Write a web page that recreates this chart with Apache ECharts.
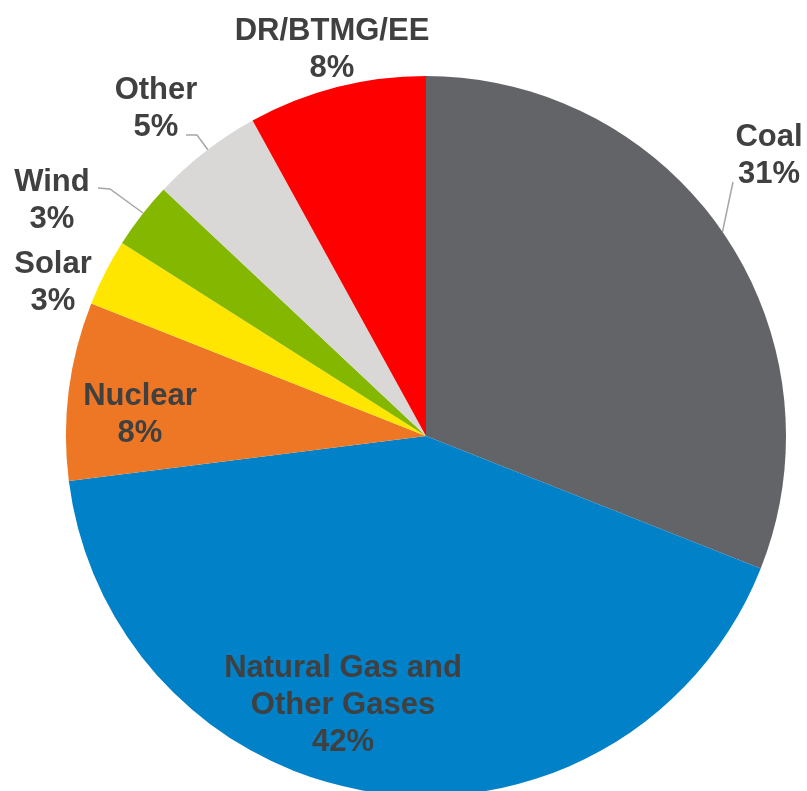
<!DOCTYPE html>
<html>
<head>
<meta charset="utf-8">
<script src="https://cdn.jsdelivr.net/npm/echarts@6/dist/echarts.min.js"></script>
<style>
  html, body { margin: 0; padding: 0; background: #ffffff; }
  #chart { width: 807px; height: 791px; }
</style>
</head>
<body>
<div id="chart"></div>
<script>
// Capacity mix by resource type (percent of total)
const categories = ['Coal', 'Natural Gas and\nOther Gases', 'Nuclear', 'Solar', 'Wind', 'Other', 'DR/BTMG/EE'];
const shares = [31, 42, 8, 3, 3, 5, 8];
const sliceColors = ['#636468', '#0081C8', '#ED7725', '#FFE600', '#84B800', '#D9D8D7', '#FF0000'];

// Label placement: centre of each text block, and an optional leader line
const labelCenters = [[769, 156], [343, 705], [140, 415], [53, 283], [52, 201], [156, 109], [332, 50]];
const leaderLines = [
  [[722, 234], [733, 182], [733, 182]],
  null, null, null,
  [[143, 213], [110, 189], [98, 188]],
  [[208, 150], [197, 135], [186, 135]],
  null
];
const insideLabels = [1, 2];

const chart = echarts.init(document.getElementById('chart'), null, { renderer: 'canvas' });

const data = categories.map((name, i) => ({
  name: name,
  value: shares[i],
  itemStyle: { color: sliceColors[i] },
  label: { position: insideLabels.includes(i) ? 'inside' : 'outside' },
  labelLine: { show: !!leaderLines[i] }
}));

chart.setOption({
  animation: false,
  series: [{
    type: 'pie',
    center: [426, 436],
    radius: [0, 360],
    startAngle: 90,
    clockwise: true,
    avoidLabelOverlap: false,
    data: data,
    itemStyle: { borderWidth: 0 },
    label: {
      show: true,
      formatter: p => p.name + '\n' + p.value + '%',
      fontFamily: '"Liberation Sans", Arial, sans-serif',
      fontWeight: 'bold',
      fontSize: 31,
      lineHeight: 37,
      color: '#404040',
      align: 'center'
    },
    labelLine: {
      show: true,
      lineStyle: { color: '#A6A6A6', width: 1.5 }
    },
    labelLayout: function (params) {
      const i = params.dataIndex;
      const out = {
        x: labelCenters[i][0],
        y: labelCenters[i][1],
        align: 'center',
        verticalAlign: 'middle'
      };
      if (leaderLines[i]) out.labelLinePoints = leaderLines[i];
      return out;
    },
    emphasis: { disabled: true }
  }]
});
</script>
</body>
</html>
